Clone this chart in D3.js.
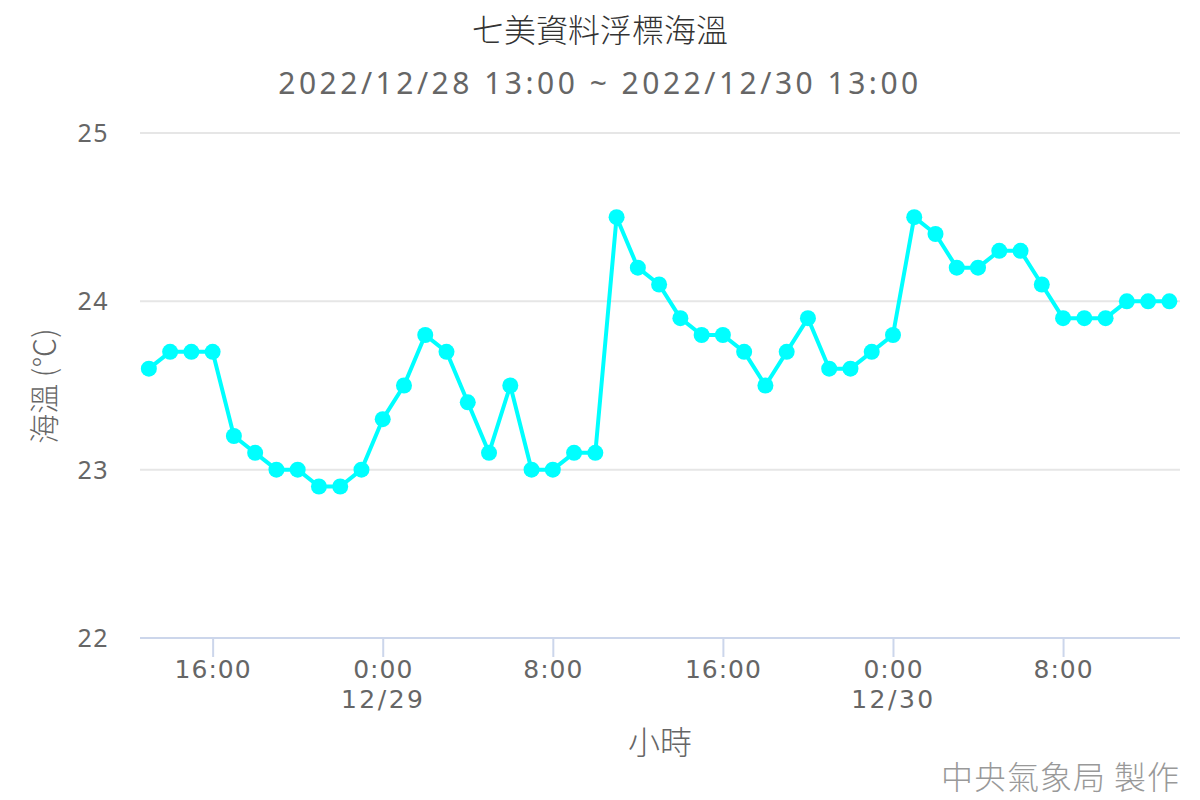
<!DOCTYPE html>
<meta charset="utf-8">
<script src="https://d3js.org/d3.v7.min.js"></script>
<style>
  body { margin: 0; background: #fff; }
</style>
<div id="chart"></div>
<script>
// hourly sea temperature, 2022/12/28 13:00 .. 2022/12/30 13:00
var startTime = new Date(2022, 11, 28, 13, 0);
var temps = [
  23.6, 23.7, 23.7, 23.7, 23.2, 23.1, 23.0, 23.0, 22.9, 22.9, 23.0,
  23.3, 23.5, 23.8, 23.7, 23.4, 23.1, 23.5, 23.0, 23.0, 23.1, 23.1,
  24.5, 24.2, 24.1, 23.9, 23.8, 23.8, 23.7, 23.5, 23.7, 23.9, 23.6,
  23.6, 23.7, 23.8, 24.5, 24.4, 24.2, 24.2, 24.3, 24.3, 24.1, 23.9,
  23.9, 23.9, 24.0, 24.0, 24.0
];
var yTicks = [22, 23, 24, 25];
var xTickHours = [3, 11, 19, 27, 35, 43]; // hours after start: 16:00, 0:00, 8:00 ...

var data = temps.map(function(v, i) {
  return {t: d3.timeHour.offset(startTime, i), v: v};
});

var width = 1200, height = 800;
var plot = {left: 140, right: 1180, top: 133, bottom: 638};

var svg = d3.select("#chart").append("svg")
  .attr("width", width)
  .attr("height", height)
  .style("font-family", "'Noto Sans', 'Noto Sans CJK TC', sans-serif");

var x = d3.scaleTime()
  .domain([d3.timeMinute.offset(startTime, -25), d3.timeMinute.offset(data[data.length - 1].t, 30)])
  .range([plot.left, plot.right]);
var y = d3.scaleLinear().domain([22, 25]).range([plot.bottom, plot.top]);

// title
svg.append("text")
  .attr("x", 600).attr("y", 42)
  .attr("text-anchor", "middle")
  .style("font-family", "'Noto Sans CJK TC', sans-serif")
  .style("font-size", "32px").style("fill", "#333").style("font-weight", 300)
  .text("七美資料浮標海溫");
svg.append("text")
  .attr("x", 600).attr("y", 94)
  .attr("text-anchor", "middle")
  .style("font-size", "30px").style("fill", "#666").style("letter-spacing", "3.5px")
  .text("2022/12/28 13:00 ~ 2022/12/30 13:00");

// gridlines + y labels
var yAxis = svg.append("g");
yAxis.selectAll("line").data(yTicks.slice(1)).enter().append("line")
  .attr("x1", plot.left).attr("x2", plot.right)
  .attr("y1", function(d) { return y(d); })
  .attr("y2", function(d) { return y(d); })
  .style("stroke", "#e6e6e6").style("stroke-width", 2);
yAxis.selectAll("text").data(yTicks).enter().append("text")
  .attr("x", 109)
  .attr("y", function(d) { return y(d); })
  .attr("dy", "0.36em")
  .attr("text-anchor", "end")
  .style("font-size", "25px").style("fill", "#666").style("letter-spacing", "1.5px")
  .text(function(d) { return d; });

svg.append("text")
  .attr("transform", "translate(55,386) rotate(-90)")
  .attr("text-anchor", "middle")
  .style("font-family", "'Noto Sans CJK TC', sans-serif")
  .style("font-size", "30px").style("fill", "#666").style("font-weight", 300)
  .text("海溫 (℃)");

// x axis
var tickTimes = xTickHours.map(function(h) { return d3.timeHour.offset(startTime, h); });
var xAxis = d3.axisBottom(x)
  .tickValues(tickTimes)
  .tickSize(19)
  .tickPadding(3)
  .tickFormat(function(d) { return d.getHours() + ":00"; });
var gx = svg.append("g")
  .attr("transform", "translate(0," + plot.bottom + ")")
  .call(xAxis);
gx.select(".domain").remove();
gx.selectAll(".tick line").style("stroke", "#ccd6eb").style("stroke-width", 2);
gx.selectAll(".tick text")
  .style("font-family", "'DejaVu Sans', sans-serif")
  .style("font-size", "25px").style("fill", "#666").style("letter-spacing", "1px")
  .each(function(d) {
    if (d.getHours() === 0) {
      d3.select(this).append("tspan")
        .attr("x", 0).attr("dy", "1.2em")
        .style("letter-spacing", "2.5px")
        .text(d3.timeFormat("%m/%d")(d));
    }
  });
svg.append("line")
  .attr("x1", plot.left).attr("x2", plot.right)
  .attr("y1", plot.bottom).attr("y2", plot.bottom)
  .style("stroke", "#ccd6eb").style("stroke-width", 2);

svg.append("text")
  .attr("x", (plot.left + plot.right) / 2).attr("y", 754)
  .attr("text-anchor", "middle")
  .style("font-family", "'Noto Sans CJK TC', sans-serif")
  .style("font-size", "32px").style("fill", "#666").style("font-weight", 300)
  .text("小時");

// series
var line = d3.line()
  .x(function(d) { return x(d.t); })
  .y(function(d) { return y(d.v); });
svg.append("path")
  .datum(data)
  .attr("d", line)
  .style("fill", "none")
  .style("stroke", "#00ffff")
  .style("stroke-width", 4)
  .style("stroke-linejoin", "round");
svg.selectAll("circle.pt").data(data).enter().append("circle")
  .attr("class", "pt")
  .attr("cx", function(d) { return x(d.t); })
  .attr("cy", function(d) { return y(d.v); })
  .attr("r", 8)
  .style("fill", "#00ffff");

// credit
svg.append("text")
  .attr("x", 1180).attr("y", 789)
  .attr("text-anchor", "end")
  .style("font-family", "'Noto Sans CJK TC', sans-serif")
  .style("font-size", "32px").style("fill", "#999").style("font-weight", 300)
  .style("letter-spacing", "1px")
  .text("中央氣象局 製作");
</script>
